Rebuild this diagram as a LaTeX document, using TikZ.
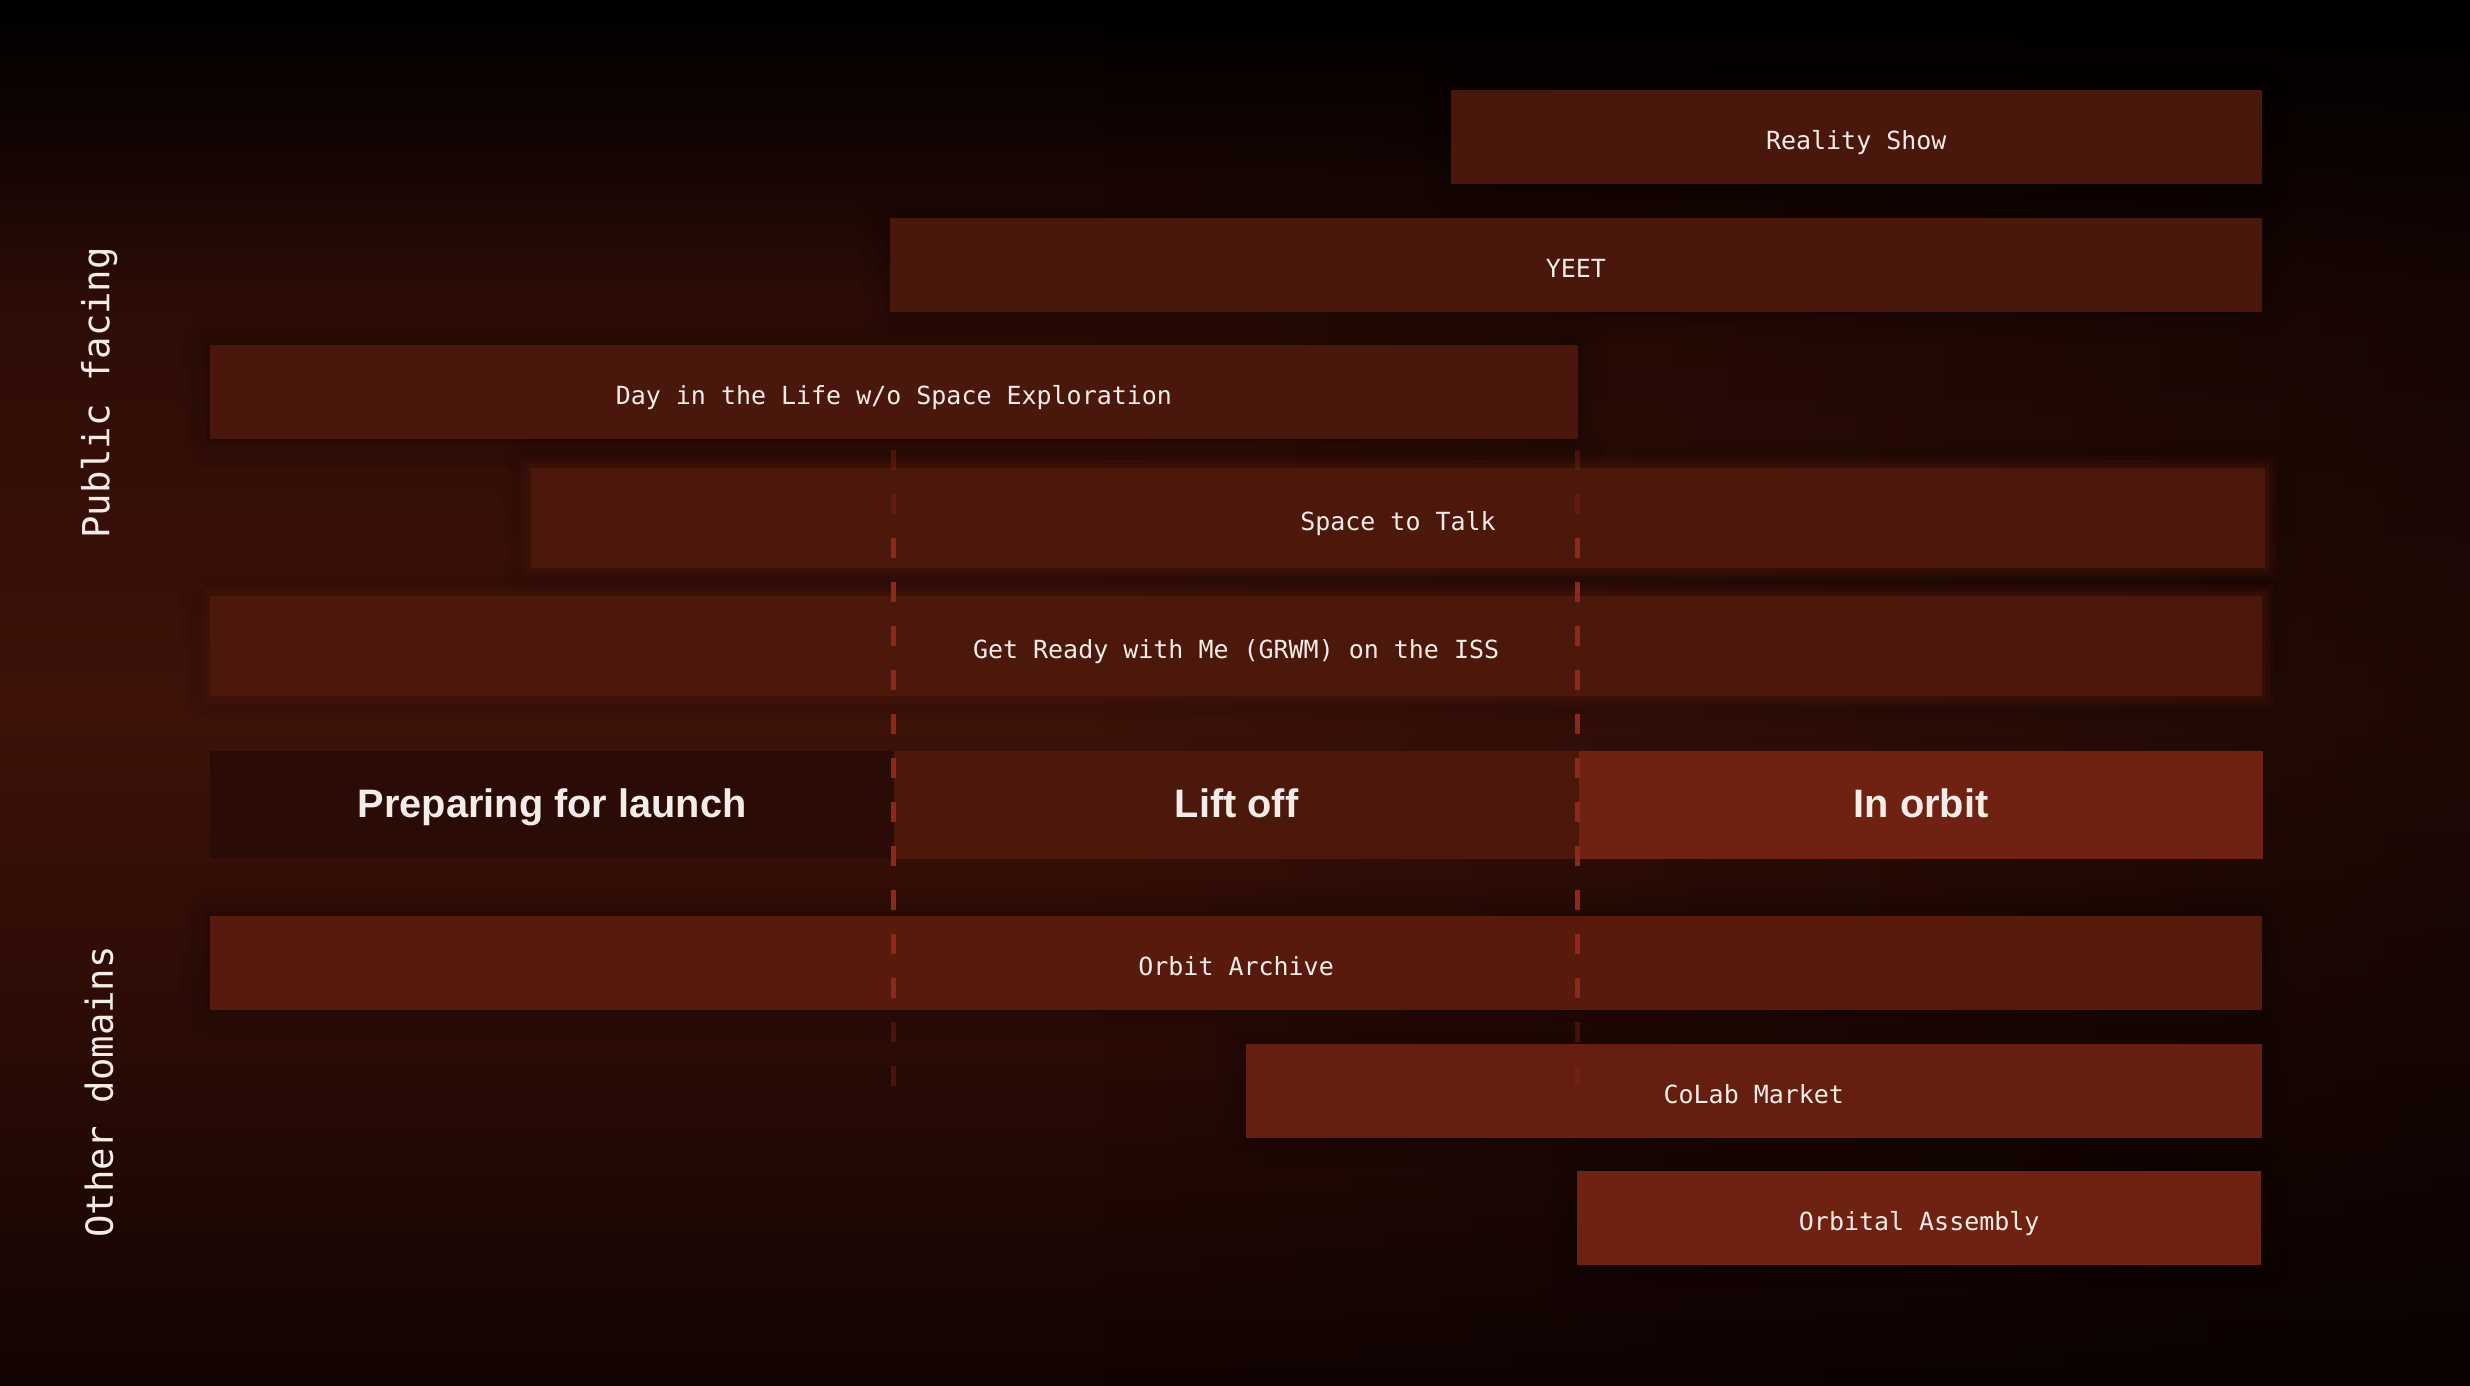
\documentclass[tikz,border=0pt]{standalone}
\usepackage{fontspec}
\setmainfont{Liberation Sans}
\setmonofont{DejaVu Sans Mono}
\usetikzlibrary{positioning, calc, shadows.blur, fadings}
\definecolor{skylow}{HTML}{1C0704}
\definecolor{skymid}{HTML}{3E1209}
\definecolor{skyhigh}{HTML}{2E0C06}
\definecolor{skytop}{HTML}{140503}
\definecolor{skybottom}{HTML}{120403}
\definecolor{barfaint}{HTML}{4A170C}
\definecolor{barsoft}{HTML}{4D180C}
\definecolor{barmid}{HTML}{571A0D}
\definecolor{barwarm}{HTML}{651E0F}
\definecolor{barhot}{HTML}{702212}
\definecolor{phasedark}{HTML}{2A0B06}
\definecolor{dashred}{HTML}{8E2818}
\definecolor{labelwhite}{HTML}{F4ECE8}
% tikz stretches 25bp--75bp over the path
\pgfdeclareverticalshading{skyglow}{100bp}{color(0bp)=(skybottom);
  color(25bp)=(skybottom); color(30bp)=(skylow); color(39bp)=(skyhigh);
  color(49.5bp)=(skymid); color(64bp)=(skyhigh); color(69.5bp)=(skytop);
  color(75bp)=(black); color(100bp)=(black)}

\begin{document}
\begin{tikzpicture}[x=0.01cm, y=-0.01cm,
    bar/.style={minimum height=0.93cm, inner sep=0pt, outer sep=0pt,
      anchor=west, text=labelwhite, text height=0.73em, text depth=0pt,
      font=\ttfamily\fontsize{7.1}{8}\selectfont,
      blur shadow={shadow xshift=0pt, shadow yshift=0pt,
        shadow blur radius=3mm, shadow opacity=45}},
    soft/.style={minimum height=1cm,
      preaction={draw=barsoft, draw opacity=0.15, line width=2.4mm},
      preaction={draw=barsoft, draw opacity=0.2, line width=1.6mm},
      preaction={draw=barsoft, draw opacity=0.3, line width=0.8mm}},
    phase/.style={minimum width=6.84cm, minimum height=1.08cm, inner sep=0pt,
      outer sep=0pt, text=labelwhite, text height=0.716em, text depth=0pt,
      font=\bfseries\fontsize{11.3}{13}\selectfont},
    side/.style={rotate=90, text=labelwhite,
      font=\ttfamily\fontsize{10.6}{12}\selectfont},
    divider/.style={line width=0.5mm, draw=dashred, dash pattern=on 2mm off 2.4mm}
  ]
  \useasboundingbox (0,0) rectangle (2470,1386);
  \shade[shading=skyglow] (0,0) rectangle (2470,1386);
  \fill[black, path fading=west, fill opacity=0.5] (1100,0) rectangle (2470,1386);

  % public facing
  \node[bar, fill=barfaint, minimum width=8.10cm] (reality) at (1451,137) {Reality Show};
  \node[bar, fill=barfaint, minimum width=13.71cm] (yeet) at (890,265) {YEET};
  \node[bar, fill=barfaint, minimum width=13.67cm] (dayinlife) at (210,392)
    {Day in the Life w/o Space Exploration};
  \node[bar, soft, fill=barsoft, minimum width=17.33cm] (spacetalk) at (531,518)
    {Space to Talk};
  \node[bar, soft, fill=barsoft, minimum width=20.51cm] (grwm) at (210,646)
    {Get Ready with Me (GRWM) on the ISS};

  % phases
  \node[phase, fill=phasedark, anchor=west] (prep) at (210,805) {Preparing for launch};
  \node[phase, fill=barsoft, right=0pt of prep] (liftoff) {Lift off};
  \node[phase, fill=barhot, right=0pt of liftoff] (inorbit) {In orbit};

  % other domains
  \node[bar, fill=barmid, minimum width=20.51cm] (archive) at (210,963) {Orbit Archive};
  \node[bar, fill=barwarm, minimum width=10.15cm] (colab) at (1246,1091) {CoLab Market};
  \node[bar, fill=barhot, minimum width=6.84cm] (assembly) at (1577,1218) {Orbital Assembly};

  \node[side] (publiclbl) at (99,393) {Public facing};
  \node[side] (otherlbl) at (99,1092) {Other domains};

  % phase dividers
  \coordinate (launchtop) at (893,450);
  \coordinate (launchbot) at (893,1110);
  \coordinate (orbittop) at (1577,450);
  \coordinate (orbitbot) at (1577,1090);
  \draw[divider, draw opacity=0.35] (launchtop) -- (launchbot);
  \draw[divider, draw opacity=0.35] (orbittop) -- (orbitbot);
  \draw[divider] ($(launchtop)+(0,88)$) -- ($(launchtop)+(0,572)$);
  \draw[divider] ($(orbittop)+(0,88)$) -- ($(orbittop)+(0,572)$);
\end{tikzpicture}
\end{document}
